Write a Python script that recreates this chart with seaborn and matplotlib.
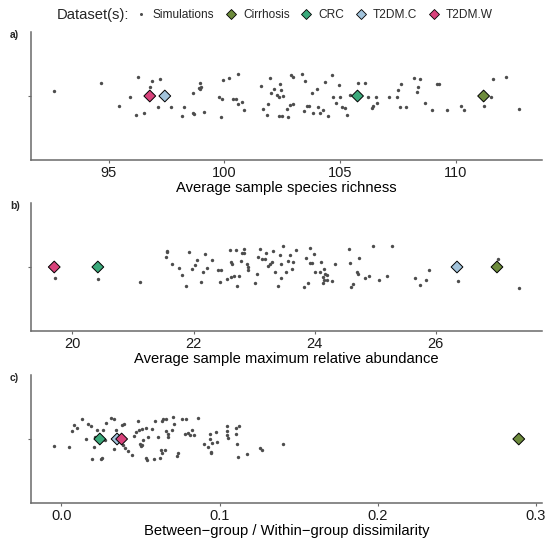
import matplotlib
matplotlib.use("Agg")
import matplotlib.pyplot as plt
import seaborn as sns
import pandas as pd
from matplotlib.lines import Line2D

# ---------------- data ----------------
datasets = ["Cirrhosis", "CRC", "T2DM.C", "T2DM.W"]
dataset_colors = ["#6d8b3c", "#3ba97b", "#a3c4dc", "#d8427b"]

# panel a: average sample species richness
richness_sim = [92.64, 94.68, 95.46, 95.90, 96.19, 96.28, 96.51, 96.77, 96.86, 97.12,
                97.21, 97.39, 97.68, 98.18, 98.23, 98.62, 98.64, 98.67, 98.93, 98.96,
                98.97, 98.90, 99.11, 99.76, 99.84, 99.90, 99.95, 100.21, 100.36, 100.48,
                100.57, 100.60, 100.75, 100.83, 101.56, 101.68, 101.83, 101.88, 101.96, 102.02,
                102.12, 102.29, 102.34, 102.35, 102.41, 102.44, 102.53, 102.50, 102.69, 102.75,
                102.81, 102.87, 102.96, 102.98, 103.34, 103.43, 103.49, 103.55, 103.65, 103.77,
                103.81, 104.01, 104.04, 104.12, 104.27, 104.33, 104.48, 104.63, 104.67, 104.82,
                104.97, 105.00, 105.08, 105.20, 105.30, 105.43, 105.78, 106.07, 106.19, 106.39,
                106.43, 106.55, 106.58, 107.13, 107.44, 107.50, 107.65, 107.60, 107.85, 108.21,
                108.36, 108.33, 108.46, 108.67, 108.97, 109.17, 109.26, 109.63, 110.24, 110.37,
                111.20, 111.51, 111.62, 112.18, 112.72]
richness_jit = [0.14, 0.40, -0.29, -0.04, -0.56, 0.57, -0.50, 0.26, 0.46, -0.32,
                0.51, 0.07, -0.32, -0.60, -0.34, 0.10, -0.50, -0.54, 0.20, 0.38,
                0.26, 0.23, -0.48, -0.04, -0.62, -0.10, 0.47, 0.52, -0.10, -0.10,
                0.64, -0.24, -0.18, -0.41, 0.29, -0.39, -0.56, -0.24, 0.52, 0.09,
                0.22, 0.02, -0.02, -0.58, 0.36, 0.18, 0.00, -0.58, -0.38, -0.61,
                -0.28, 0.61, 0.55, -0.24, 0.64, -0.44, 0.44, -0.30, -0.31, 0.09,
                -0.50, 0.20, -0.32, -0.50, -0.42, 0.42, -0.60, 0.61, -0.04, -0.22,
                0.34, -0.04, -0.34, -0.36, -0.56, 0.04, 0.40, 0.39, -0.04, -0.36,
                -0.30, -0.04, -0.20, -0.03, -0.04, 0.18, 0.36, -0.32, -0.32, 0.54,
                0.27, 0.13, 0.51, -0.22, -0.41, 0.35, 0.37, -0.41, -0.30, -0.42,
                -0.29, -0.02, 0.50, 0.57, -0.40]
richness_obs = [111.20, 105.75, 97.42, 96.77]
richness_ticks = [95, 100, 105, 110]

# panel b: average sample maximum relative abundance
maxabund_sim = [19.72, 20.43, 21.11, 21.54, 21.56, 21.57, 21.64, 21.76, 21.81, 21.88,
                21.92, 21.98, 22.02, 22.05, 22.13, 22.15, 22.19, 22.22, 22.31, 22.40,
                22.44, 22.45, 22.55, 22.60, 22.62, 22.62, 22.63, 22.67, 22.70, 22.71,
                22.75, 22.78, 22.80, 22.83, 22.83, 22.88, 22.90, 22.90, 23.02, 23.05,
                23.07, 23.09, 23.13, 23.18, 23.20, 23.23, 23.26, 23.29, 23.31, 23.35,
                23.40, 23.42, 23.44, 23.44, 23.48, 23.53, 23.56, 23.59, 23.62, 23.64,
                23.69, 23.82, 23.86, 23.89, 23.92, 23.92, 23.95, 23.99, 24.01, 24.08,
                24.10, 24.13, 24.13, 24.15, 24.16, 24.17, 24.20, 24.21, 24.29, 24.33,
                24.56, 24.59, 24.60, 24.63, 24.70, 24.72, 24.74, 24.83, 24.89, 24.97,
                25.07, 25.19, 25.28, 25.66, 25.74, 25.84, 25.88, 26.36, 27.02, 27.37]
maxabund_jit = [-0.34, -0.37, -0.45, 0.29, 0.44, 0.48, 0.10, -0.02, -0.23, -0.55,
                0.45, -0.06, 0.06, 0.20, -0.46, -0.16, 0.39, -0.03, 0.20, -0.10,
                -0.45, -0.09, -0.37, 0.50, 0.16, -0.29, 0.08, -0.27, 0.50, -0.57,
                -0.28, 0.17, 0.42, 0.54, 0.42, 0.10, 0.00, -0.09, -0.48, -0.21,
                0.30, 0.54, 0.24, 0.24, 0.42, 0.03, 0.09, 0.15, 0.47, -0.16,
                -0.55, 0.36, 0.10, -0.32, 0.61, -0.16, 0.17, 0.37, -0.05, 0.16,
                0.50, -0.58, 0.26, -0.48, 0.13, 0.55, 0.13, 0.40, -0.16, -0.15,
                0.15, -0.30, -0.48, -0.06, -0.39, -0.21, -0.25, -0.39, -0.43, 0.08,
                0.54, 0.11, -0.60, -0.49, -0.15, -0.22, 0.28, -0.33, -0.27, 0.63,
                -0.40, -0.27, 0.62, -0.34, -0.54, -0.39, -0.09, -0.43, 0.25, -0.63]
maxabund_obs = [27.01, 20.42, 26.35, 19.70]
maxabund_ticks = [20, 22, 24, 26]

# panel c: between-group / within-group dissimilarity
dissim_sim = [-0.0045, 0.0049, 0.0069, 0.0080, 0.0102, 0.0131, 0.0154, 0.0167, 0.0185, 0.0194,
              0.0205, 0.0212, 0.0227, 0.0252, 0.0258, 0.0261, 0.0274, 0.0283, 0.0316, 0.0330,
              0.0332, 0.0347, 0.0370, 0.0385, 0.0390, 0.0396, 0.0405, 0.0423, 0.0445, 0.0461,
              0.0474, 0.0486, 0.0490, 0.0499, 0.0503, 0.0512, 0.0508, 0.0517, 0.0532, 0.0537,
              0.0539, 0.0546, 0.0572, 0.0588, 0.0595, 0.0610, 0.0621, 0.0628, 0.0633, 0.0637,
              0.0644, 0.0653, 0.0661, 0.0664, 0.0677, 0.0677, 0.0702, 0.0708, 0.0715, 0.0728,
              0.0735, 0.0764, 0.0784, 0.0788, 0.0802, 0.0813, 0.0826, 0.0837, 0.0866, 0.0900,
              0.0929, 0.0940, 0.0942, 0.0944, 0.0944, 0.0951, 0.0978, 0.0984, 0.1047, 0.1047,
              0.1049, 0.1051, 0.1105, 0.1105, 0.1107, 0.1118, 0.1125, 0.1174, 0.1256, 0.1265,
              0.1401]
dissim_jit = [-0.20, -0.25, 0.25, 0.43, 0.34, 0.60, -0.01, 0.44, 0.38, -0.60,
              -0.24, 0.07, 0.26, -0.58, -0.55, 0.26, -0.02, 0.48, 0.61, 0.58,
              -0.31, 0.26, 0.07, 0.41, -0.17, 0.44, -0.28, -0.36, -0.47, 0.10,
              0.20, 0.52, 0.27, -0.16, -0.22, -0.18, 0.29, -0.04, 0.33, -0.55,
              -0.62, 0.07, 0.30, -0.58, 0.53, 0.07, -0.57, -0.34, 0.54, -0.42,
              0.60, -0.34, 0.58, 0.23, 0.16, 0.06, 0.27, 0.64, 0.45, -0.51,
              -0.42, 0.59, 0.16, 0.59, 0.19, 0.13, 0.26, 0.13, 0.61, -0.14,
              -0.24, 0.14, -0.01, -0.38, -0.43, -0.12, 0.21, -0.10, 0.38, 0.25,
              0.12, 0.03, 0.32, 0.15, -0.14, -0.54, 0.40, -0.46, -0.27, -0.32,
              -0.15]
dissim_obs = [0.2891, 0.0243, 0.0352, 0.0381]
dissim_ticks = [0.0, 0.1, 0.2, 0.3]
dissim_ticklabels = ["0.0", "0.1", "0.2", "0.3"]

panel_letters = ["a)", "b)", "c)"]
xlabels = ["Average sample species richness",
           "Average sample maximum relative abundance",
           "Between\u2212group / Within\u2212group dissimilarity"]
legend_title = "Dataset(s):"
sim_label = "Simulations"

# ---------------- plot ----------------
sns.set_theme(style="ticks")
plt.rcParams["font.family"] = ["Liberation Sans", "DejaVu Sans"]

fig = plt.figure(figsize=(5.5, 5.44), dpi=100)
W, H = 550, 544
axes_px = [(32, 160), (203, 331), (375, 503)]  # (top, bottom) in pixels
left_px, right_px = 31, 542

palette = dict(zip(datasets, dataset_colors))
panels = [
    (richness_sim, richness_jit, richness_obs, richness_ticks, [str(t) for t in richness_ticks]),
    (maxabund_sim, maxabund_jit, maxabund_obs, maxabund_ticks, [str(t) for t in maxabund_ticks]),
    (dissim_sim, dissim_jit, dissim_obs, dissim_ticks, dissim_ticklabels),
]
spine_col = "#6a6a6a"
for i, (sim, jit, obs, ticks, tlabels) in enumerate(panels):
    top, bot = axes_px[i]
    ax = fig.add_axes([left_px / W, 1 - bot / H, (right_px - left_px) / W, (bot - top) / H])
    sim_df = pd.DataFrame({"value": sim, "jitter": jit})
    obs_df = pd.DataFrame({"value": obs, "dataset": datasets, "y": [0.0] * len(obs)})
    sns.scatterplot(data=sim_df, x="value", y="jitter", color="#4d4d4d", s=6,
                    linewidth=0, ax=ax, legend=False, zorder=2)
    sns.scatterplot(data=obs_df, x="value", y="y", hue="dataset", palette=palette,
                    hue_order=datasets, marker="D", s=36, edgecolor="black",
                    linewidth=0.7, ax=ax, legend=False, zorder=3)
    allv = list(sim) + list(obs)
    rng = max(allv) - min(allv)
    ax.set_xlim(min(allv) - 0.05 * rng, max(allv) + 0.05 * rng)
    ax.set_ylim(-1.9, 1.9)
    ax.set_xticks(ticks)
    ax.set_xticklabels(tlabels)
    ax.set_yticks([0])
    ax.set_yticklabels([""])
    ax.set_ylabel("")
    ax.set_xlabel(xlabels[i], fontsize=10.6, color="black", labelpad=0.8)
    for s in ["top", "right"]:
        ax.spines[s].set_visible(False)
    for s in ["left", "bottom"]:
        ax.spines[s].set_color(spine_col)
        ax.spines[s].set_linewidth(1.1)
    ax.tick_params(axis="both", length=2.5, width=0.8, color=spine_col,
                   labelsize=10.5, labelcolor="#1a1a1a", pad=1.5)
    fig.text(10 / W, 1 - (top + 3) / H, panel_letters[i], fontsize=7.5,
             fontweight="bold", ha="left", va="center")

# legend
fig.text(57 / W, 1 - 15 / H, legend_title, fontsize=10.6, ha="left", va="center")
handles = [Line2D([], [], ls="", marker="o", color="#4d4d4d", markersize=2.2,
                  markeredgewidth=0)]
for d in datasets:
    handles.append(Line2D([], [], ls="", marker="D", markerfacecolor=palette[d],
                          markeredgecolor="black", markeredgewidth=0.6, markersize=5))
fig.legend(handles, [sim_label] + datasets, loc="center left",
           bbox_to_anchor=(136 / W, 1 - 15 / H), ncol=5, frameon=False,
           fontsize=8.6, handlelength=0.8, handletextpad=0.6, columnspacing=1.0,
           borderpad=0, borderaxespad=0)

fig.savefig("out.png", dpi=100)
